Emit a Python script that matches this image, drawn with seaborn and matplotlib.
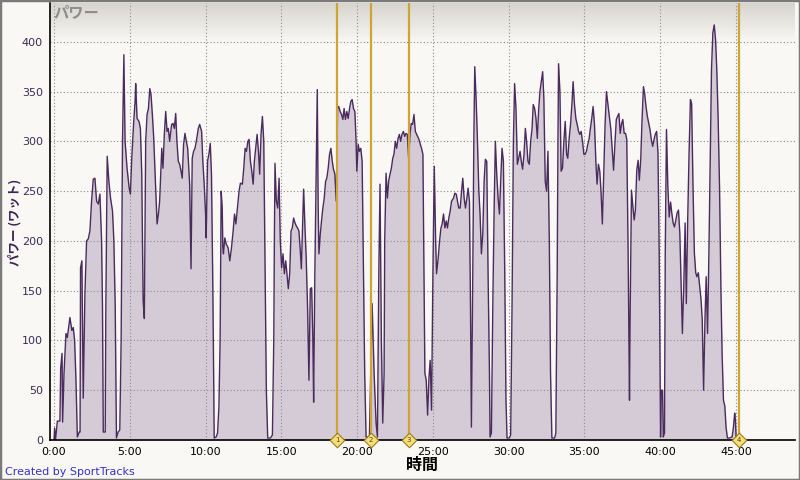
import numpy as np
import pandas as pd
import matplotlib
matplotlib.use("Agg")
import matplotlib.pyplot as plt
from matplotlib.patches import Rectangle
import seaborn as sns

# ---- data (minutes, watts) ----
time_min = [
    0.00, 0.04, 0.10, 0.22, 0.39, 0.44, 0.53, 0.57, 0.66, 0.79, 0.88, 1.05, 1.18, 1.27, 1.36, 1.45, 1.54, 1.67, 1.72,
    1.75, 1.84, 1.93, 2.04, 2.15, 2.26, 2.37, 2.48, 2.59, 2.70, 2.81, 2.92, 3.03, 3.14, 3.20, 3.25, 3.38, 3.42, 3.51,
    3.62, 3.73, 3.86, 3.95, 4.04, 4.12, 4.23, 4.34, 4.43, 4.52, 4.61, 4.69, 4.82, 4.96, 5.04, 5.13, 5.26, 5.35, 5.39,
    5.48, 5.61, 5.70, 5.79, 5.88, 5.96, 6.05, 6.14, 6.23, 6.32, 6.40, 6.49, 6.58, 6.71, 6.80, 6.89, 6.97, 7.11, 7.19,
    7.28, 7.37, 7.46, 7.54, 7.63, 7.76, 7.85, 7.94, 8.03, 8.11, 8.20, 8.29, 8.38, 8.46, 8.55, 8.64, 8.73, 8.82, 8.95,
    9.04, 9.12, 9.21, 9.30, 9.39, 9.52, 9.61, 9.74, 9.82, 9.91, 10.00, 10.04, 10.13, 10.22, 10.31, 10.39, 10.48, 10.57,
    10.70, 10.79, 10.88, 10.96, 11.03, 11.10, 11.14, 11.18, 11.27, 11.36, 11.49,
    11.60, 11.71, 11.82, 11.91, 12.00, 12.08, 12.21, 12.30, 12.43, 12.52, 12.61, 12.70, 12.79, 12.87, 12.96, 13.05,
    13.14, 13.22, 13.31, 13.40, 13.49, 13.57, 13.66, 13.75, 13.84, 13.93, 14.01, 14.10, 14.28, 14.41, 14.50, 14.54,
    14.58, 14.67, 14.76, 14.85, 14.93, 15.02, 15.11, 15.20, 15.29, 15.37, 15.46, 15.55, 15.64, 15.72, 15.81, 15.90,
    15.99, 16.07, 16.16, 16.25, 16.32, 16.38, 16.47, 16.56, 16.64, 16.73, 16.82, 16.91, 17.00, 17.08, 17.13, 17.21,
    17.30, 17.37, 17.43, 17.48, 17.57, 17.65, 17.74, 17.83, 17.92, 18.00, 18.09, 18.18, 18.27, 18.36, 18.44, 18.53,
    18.62, 18.71, 18.79, 18.88, 18.97, 19.06, 19.14, 19.23, 19.32, 19.41, 19.50, 19.58, 19.67, 19.76, 19.85, 19.93,
    19.98, 20.07, 20.15, 20.24, 20.33, 20.42, 20.50, 20.59, 20.81, 20.99, 21.12, 21.25, 21.34, 21.43, 21.51, 21.60,
    21.69, 21.78, 21.82, 21.91, 22.00, 22.08, 22.17, 22.26, 22.35, 22.43, 22.52, 22.61, 22.70, 22.79, 22.87, 22.96,
    23.05, 23.14, 23.22, 23.31, 23.40, 23.49, 23.57, 23.66, 23.75, 23.84, 23.93,
    24.08, 24.17, 24.25, 24.34, 24.39, 24.47, 24.56, 24.65, 24.74, 24.82, 24.91, 25.00, 25.09, 25.18, 25.24, 25.35,
    25.44, 25.53, 25.61, 25.70, 25.79, 25.88, 25.96, 26.05, 26.14, 26.23, 26.36, 26.45, 26.54, 26.62, 26.71, 26.80,
    26.89, 26.97, 27.06, 27.15, 27.24, 27.32, 27.41, 27.48, 27.54, 27.63, 27.70, 27.76, 27.85, 27.94, 28.03, 28.11,
    28.20, 28.29, 28.38, 28.46, 28.55, 28.64, 28.73, 28.77, 28.86, 28.95, 29.04, 29.12, 29.21, 29.30, 29.39, 29.47,
    29.56, 29.65, 29.74, 29.82, 29.89, 30.04, 30.13, 30.22, 30.31, 30.39, 30.48, 30.57, 30.66, 30.75, 30.83, 30.92,
    31.01, 31.10, 31.18, 31.27, 31.36, 31.45, 31.54, 31.62, 31.71, 31.80, 31.89, 31.97, 32.06, 32.15, 32.24, 32.32,
    32.41, 32.50, 32.59, 32.68, 32.76, 32.85, 33.03, 33.11, 33.20, 33.25, 33.29, 33.38, 33.46, 33.55, 33.64, 33.73,
    33.82, 33.90, 33.99, 34.08, 34.17, 34.25, 34.34, 34.43, 34.52, 34.61, 34.69, 34.78, 34.87, 34.96, 35.04, 35.13,
    35.22, 35.31, 35.39, 35.48, 35.57, 35.66, 35.75, 35.83, 35.92, 36.01, 36.10, 36.18, 36.27, 36.36, 36.45,
    36.66, 36.74, 36.83, 36.92, 37.01, 37.10, 37.18, 37.27, 37.36, 37.45, 37.53, 37.62, 37.71, 37.79, 37.88, 37.97,
    38.01, 38.10, 38.19, 38.28, 38.36, 38.45, 38.54, 38.62, 38.71, 38.80, 38.89, 38.97, 39.06, 39.15, 39.24, 39.32,
    39.41, 39.50, 39.59, 39.67, 39.76, 39.85, 39.93, 40.02, 40.07, 40.15, 40.20, 40.28, 40.33, 40.41, 40.50, 40.59,
    40.68, 40.76, 40.85, 40.94, 41.03, 41.11, 41.20, 41.29, 41.38, 41.46, 41.55, 41.64, 41.72, 41.81, 41.90, 41.99,
    42.07, 42.16, 42.25, 42.34, 42.42, 42.51, 42.60, 42.69, 42.77, 42.86, 42.95, 43.03, 43.12, 43.21, 43.30, 43.38,
    43.47, 43.56, 43.65, 43.73, 43.82, 43.91, 44.00, 44.08, 44.17, 44.26, 44.34, 44.43, 44.56, 44.74, 44.83, 44.91,
    44.96, 45.00, 45.09,
]
power_w = [
    0, 12, 0, 19, 19, 72, 87, 18, 67, 107, 103, 123, 110, 113, 100, 60, 3, 8, 8,
    173, 180, 42, 147, 200, 202, 210, 240, 262, 263, 240, 237, 247, 200, 133, 8, 8, 133, 285,
    260, 243, 230, 200, 133, 2, 8, 10, 100, 300, 387, 300, 273, 253, 247, 283, 320, 340, 358,
    323, 320, 313, 267, 140, 122, 300, 327, 333, 353, 347, 327, 303, 253, 217, 227, 240, 293, 273,
    307, 330, 310, 313, 300, 317, 318, 313, 328, 300, 280, 277, 270, 263, 297, 308, 300, 293, 257,
    172, 283, 290, 293, 300, 313, 317, 310, 280, 257, 227, 203, 280, 287, 298, 267, 153, 2,
    3, 7, 33, 100, 250, 233, 193, 187, 203, 197, 193,
    180, 193, 210, 227, 217, 230, 250, 258, 257, 273, 293, 290, 300, 302, 280, 270,
    257, 280, 293, 307, 290, 267, 307, 325, 300, 167, 50, 2, 2, 5, 100, 200,
    278, 240, 233, 263, 200, 173, 187, 167, 180, 167, 152, 167, 210, 213, 223, 218,
    215, 213, 210, 190, 172, 203, 252, 213, 183, 133, 60, 152, 153, 100, 38, 167,
    267, 352, 233, 187, 207, 220, 233, 243, 260, 263, 273, 287, 293, 280, 272, 267,
    240, 333, 335, 330, 327, 322, 333, 322, 330, 323, 333, 340, 342, 333, 330, 300,
    270, 297, 290, 293, 280, 167, 67, 3, 3, 137, 67, 17, 3, 167, 257, 100,
    17, 67, 200, 268, 243, 260, 267, 273, 283, 287, 300, 293, 303, 307, 300, 307,
    310, 305, 308, 307, 283, 307, 318, 317, 327, 310, 307,
    302, 297, 293, 287, 200, 67, 60, 25, 63, 80, 30, 167, 275, 200, 167, 183,
    200, 213, 217, 227, 213, 220, 213, 223, 230, 240, 243, 248, 247, 240, 233, 233,
    250, 263, 243, 233, 243, 253, 240, 133, 13, 167, 300, 375, 343, 300, 250, 227,
    187, 207, 260, 282, 280, 167, 67, 3, 7, 133, 233, 300, 267, 243, 227, 260,
    293, 280, 167, 40, 2, 2, 5, 133, 300, 358, 333, 277, 283, 290, 280, 272,
    287, 313, 300, 280, 277, 300, 313, 337, 333, 323, 303, 330, 350, 360, 370, 343,
    260, 250, 290, 200, 67, 2, 2, 7, 167, 300, 378, 350, 270, 273, 300, 320,
    287, 283, 303, 317, 337, 360, 337, 323, 317, 310, 307, 310, 300, 287, 287, 290,
    297, 303, 313, 323, 335, 317, 280, 257, 277, 270, 247, 217, 267, 317, 350,
    322, 312, 291, 271, 298, 322, 325, 328, 308, 318, 322, 308, 308, 302, 188, 40,
    121, 251, 235, 221, 231, 271, 281, 261, 281, 322, 355, 348, 335, 325, 318, 312,
    302, 295, 302, 307, 310, 288, 188, 3, 50, 50, 3, 7, 188, 312, 255, 224,
    239, 228, 218, 214, 221, 228, 231, 208, 154, 107, 154, 218, 137, 221, 288, 342,
    338, 255, 188, 168, 164, 168, 154, 141, 121, 50, 121, 164, 107, 188, 288, 372,
    409, 417, 402, 372, 322, 255, 154, 87, 40, 34, 13, 2, 2, 3, 13, 27,
    20, 3, 0,
]

lap_times = [18.70, 20.90, 23.40, 45.20]
lap_labels = ["1", "2", "3", "4"]

x_ticks = [0, 5, 10, 15, 20, 25, 30, 35, 40, 45]
x_tick_labels = ["0:00", "5:00", "10:00", "15:00", "20:00", "25:00", "30:00", "35:00", "40:00", "45:00"]
y_ticks = [0, 50, 100, 150, 200, 250, 300, 350, 400]

title_text = "パワー"
y_label = "パワー (ワット)"
x_label = "時間"
credit = "Created by SportTracks"

df = pd.DataFrame({"minutes": time_min, "power": power_w})

# ---- style ----
sns.set_style("white")
plt.rcParams["font.family"] = ["DejaVu Sans", "Noto Sans CJK JP"]
BG = "#F9F8F4"
FILL = "#D5CBD6"
LINE = "#4A2B5E"
GOLD = "#CFA436"

fig = plt.figure(figsize=(8, 4.8), dpi=100, facecolor=BG)
ax = fig.add_axes([50 / 800, 40 / 480, 745 / 800, 437 / 480])
ax.set_facecolor(BG)

# top gradient band
grad = np.linspace(0, 1, 64).reshape(-1, 1)
top_c = np.array([0xD8, 0xD5, 0xCF]) / 255
bot_c = np.array([0xF9, 0xF8, 0xF4]) / 255
img = top_c[None, None, :] * (1 - grad[:, :, None]) + bot_c[None, None, :] * grad[:, :, None]
ax.imshow(img, extent=[0, 1, 1 - 40 / 437, 1], transform=ax.transAxes, aspect="auto", zorder=0)

ax.fill_between(df["minutes"], df["power"], 0, color=FILL, lw=0, zorder=1)
sns.lineplot(data=df, x="minutes", y="power", ax=ax, color=LINE, lw=1.0,
             estimator=None, sort=False, zorder=3)

ax.set_xlim(-0.264, 48.89)
ax.set_ylim(0, 439)
ax.set_xticks(x_ticks)
ax.set_xticklabels(x_tick_labels)
ax.set_yticks(y_ticks)
ax.set_xlabel("")
ax.set_ylabel("")

ax.set_axisbelow(False)
ax.grid(True, linestyle=(0, (1, 2)), color="#8C8C8C", lw=0.8)

for s in ["top", "right"]:
    ax.spines[s].set_visible(False)
for s in ["left", "bottom"]:
    ax.spines[s].set_color("black")
    ax.spines[s].set_linewidth(1.2)
    ax.spines[s].set_zorder(6)

ax.tick_params(axis="both", direction="out", length=3, width=1, color="black", labelsize=8, pad=2)
ax.tick_params(axis="y", labelcolor="#3B2B55")
ax.tick_params(axis="x", labelcolor="black")

# laps
for t, lab in zip(lap_times, lap_labels):
    ax.axvline(t, color=GOLD, lw=1.6, zorder=4)
    ax.scatter([t], [0], marker="D", s=55, facecolor="#F4DF7C", edgecolor="#9C7C1C",
               lw=0.8, clip_on=False, zorder=7)
    ax.text(t, 0, lab, ha="center", va="center", fontsize=5, color="#5A4300",
            clip_on=False, zorder=8)

# texts
fig.text(53 / 800, 1 - 12 / 480, title_text, color="#8C8C8C", fontsize=11, fontweight="bold",
         family=["Noto Sans CJK JP", "DejaVu Sans"], ha="left", va="center")
fig.text(15 / 800, 1 - 222 / 480, y_label, color="#3B2455", fontsize=9, fontweight="bold",
         family=["Noto Sans CJK JP", "DejaVu Sans"], rotation=90, ha="center", va="center")
fig.text(422 / 800, 1 - 465 / 480, x_label, color="black", fontsize=11.5, fontweight="bold",
         family=["Noto Sans CJK JP", "DejaVu Sans"], ha="center", va="center")
fig.text(5 / 800, 1 - 472 / 480, credit, color="#3333C4", fontsize=8, ha="left", va="center")

fig.add_artist(Rectangle((0, 0), 1, 1, transform=fig.transFigure, fill=False,
                         edgecolor="#7A7A7A", lw=2.5))

fig.savefig("out.png", dpi=100, facecolor=BG)
